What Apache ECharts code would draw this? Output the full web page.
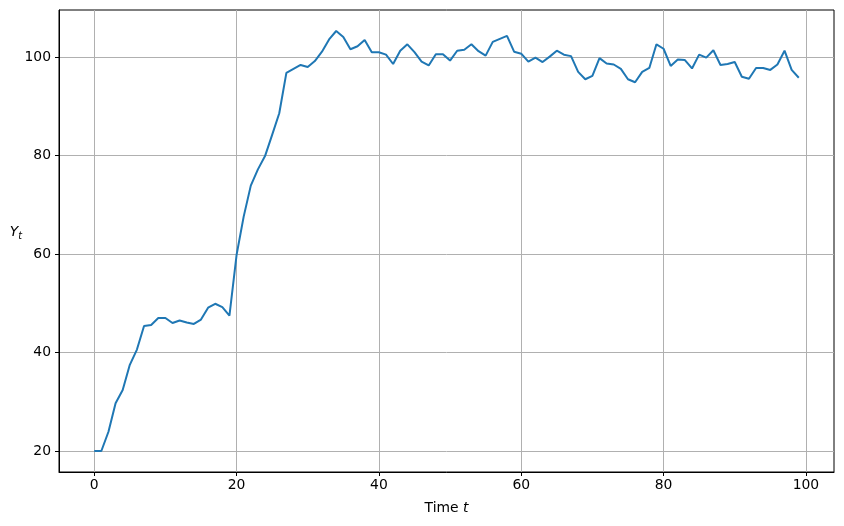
<!DOCTYPE html>
<html>
<head>
<meta charset="utf-8">
<script src="https://cdn.jsdelivr.net/npm/echarts@6/dist/echarts.min.js"></script>
<style>html,body{margin:0;padding:0;background:#fff;}#c{width:844px;height:526px;}</style>
</head>
<body>
<div id="c"></div>
<script>
const times = [0,1,2,3,4,5,6,7,8,9,10,11,12,13,14,15,16,17,18,19,20,21,22,23,24,25,26,27,28,29,30,31,32,33,34,35,36,37,38,39,40,41,42,43,44,45,46,47,48,49,50,51,52,53,54,55,56,57,58,59,60,61,62,63,64,65,66,67,68,69,70,71,72,73,74,75,76,77,78,79,80,81,82,83,84,85,86,87,88,89,90,91,92,93,94,95,96,97,98,99];
const values = [20.0,20.0,23.9,29.7,32.4,37.5,40.6,45.4,45.6,47.0,47.0,46.0,46.5,46.1,45.8,46.7,49.1,49.9,49.2,47.5,
59.8,67.6,73.9,77.2,79.9,84.2,88.6,96.8,97.6,98.4,98.0,99.2,101.1,103.6,105.3,104.1,101.6,102.2,103.5,101.0,
101.0,100.5,98.6,101.3,102.6,101.0,99.1,98.3,100.6,100.6,99.3,101.3,101.5,102.6,101.2,100.3,103.1,103.7,104.3,101.1,
100.7,99.1,99.9,99.0,100.1,101.3,100.5,100.2,97.0,95.5,96.2,99.8,98.7,98.5,97.6,95.5,94.9,97.0,97.8,102.6,
101.7,98.2,99.5,99.4,97.7,100.5,99.9,101.4,98.4,98.6,99.0,96.0,95.6,97.8,97.8,97.4,98.5,101.3,97.4,95.8];
const xTicks = [0,20,40,60,80,100];
const yTicks = [20,40,60,80,100];

const chart = echarts.init(document.getElementById('c'));
const font = 'DejaVu Sans';
chart.setOption({
  animation: false,
  grid: {left: 59, right: 10, top: 10, bottom: 54, show: true, borderColor: '#000', borderWidth: 1, backgroundColor: 'transparent'},
  xAxis: {
    type: 'value', min: -4.95, max: 103.95,
    name: '{a|Time }{b|t}', nameLocation: 'middle', nameGap: 29, nameMoveOverlap: false,
    nameTextStyle: {rich: {a: {fontFamily: font, fontSize: 13.9, color: '#000'}, b: {fontFamily: font, fontSize: 13.9, fontStyle: 'italic', color: '#000'}}},
    axisLine: {show: true, onZero: false, lineStyle: {color: '#000', width: 1}},
    axisTick: {show: true, inside: false, length: 4, lineStyle: {color: '#000', width: 1}, customValues: xTicks},
    axisLabel: {customValues: xTicks, color: '#000', fontFamily: font, fontSize: 13.9, margin: 6},
    splitLine: {show: true, lineStyle: {color: '#b0b0b0', width: 1}}
  },
  yAxis: {
    type: 'value', min: 15.73, max: 109.57,
    name: '{a|Y}{b|t}', nameLocation: 'middle', nameGap: 37, nameRotate: 0, nameMoveOverlap: false,
    nameTextStyle: {padding: [0, 0, 18, 0], rich: {a: {fontFamily: font, fontSize: 13.9, fontStyle: 'italic', color: '#000'}, b: {fontFamily: font, fontSize: 9.7, fontStyle: 'italic', color: '#000', verticalAlign: 'bottom', padding: [8, 0, 0, 0]}}},
    axisLine: {show: true, onZero: false, lineStyle: {color: '#000', width: 1}},
    axisTick: {show: true, inside: false, length: 4, lineStyle: {color: '#000', width: 1}, customValues: yTicks},
    axisLabel: {customValues: yTicks, color: '#000', fontFamily: font, fontSize: 13.9, margin: 8},
    splitLine: {show: true, lineStyle: {color: '#b0b0b0', width: 1}}
  },
  series: [{
    type: 'line', data: times.map((t, i) => [t, values[i]]),
    showSymbol: false, symbol: 'none',
    lineStyle: {color: '#1f77b4', width: 2}, itemStyle: {color: '#1f77b4'}
  }]
});
</script>
</body>
</html>
